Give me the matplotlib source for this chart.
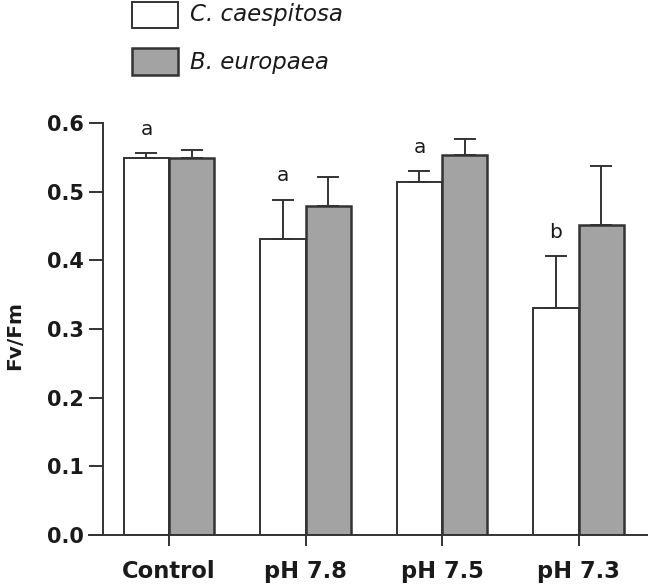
import matplotlib
matplotlib.use("Agg")
import matplotlib.pyplot as plt
import matplotlib.transforms as mtransforms
from matplotlib.patches import Rectangle
import numpy as np

categories = ["Control", "pH 7.8", "pH 7.5", "pH 7.3"]
caesp_mean = [0.549, 0.431, 0.514, 0.330]
caesp_err = [0.007, 0.057, 0.016, 0.076]
europ_mean = [0.549, 0.479, 0.553, 0.451]
europ_err = [0.011, 0.042, 0.023, 0.086]
letters = ["a", "a", "a", "b"]
series_names = ["C. caespitosa", "B. europaea"]
yticks = [0.0, 0.1, 0.2, 0.3, 0.4, 0.5, 0.6]

plt.rcParams['font.family'] = ['DejaVu Sans']

W, H = 648, 587
fig = plt.figure(figsize=(W / 100, H / 100), dpi=100)
ax = fig.add_axes([103 / W, 1 - 535 / H, 545 / W, (535 - 123) / H])

x = np.arange(len(categories))
bw = 0.33
edge = "#333333"
gray = "#a3a3a3"
txt = "#1a1a1a"
ekw = dict(ecolor=edge, elinewidth=1.4, capsize=8, capthick=1.4)
ax.bar(x - bw / 2, caesp_mean, bw, color="white", edgecolor=edge, linewidth=1.4,
       yerr=[np.zeros(4), caesp_err], error_kw=ekw)
ax.bar(x + bw / 2, europ_mean, bw, color=gray, edgecolor=edge, linewidth=1.8,
       yerr=[np.zeros(4), europ_err], error_kw=ekw)

for i in range(4):
    ax.text(x[i] - bw / 2, caesp_mean[i] + caesp_err[i] + 0.027, letters[i], ha="center",
            va="baseline", fontsize=14.5, color=txt, clip_on=False)

ax.set_xlim(-0.4835, 3.509)
ax.set_ylim(0, 0.6)
ax.set_yticks(yticks)
ax.set_yticklabels([f"{v:.1f}" for v in yticks], fontsize=15, fontweight="bold", color=txt)
ax.set_xticks(x)
ax.set_xticklabels(categories, fontsize=16.3, fontweight="bold", color=txt)
off = mtransforms.ScaledTranslation(4 / 100, 0, fig.dpi_scale_trans)
for lab in ax.get_xticklabels():
    lab.set_transform(lab.get_transform() + off)
ax.tick_params(axis="y", length=10, width=1.4, color=edge, pad=4)
ax.tick_params(axis="x", length=8, width=1.4, color=edge, pad=10)
for s in ["top", "right", "bottom"]:
    ax.spines[s].set_visible(False)
ax.spines["left"].set_bounds(0, 0.6)
ax.spines["left"].set_linewidth(1.4)
ax.spines["left"].set_color(edge)
ax.plot([-14 / 545, 1], [0, 0], transform=ax.transAxes, color=edge, lw=1.4, clip_on=False)
fig.text(15 / W, 1 - 335 / H, "Fv/Fm", rotation=90, fontsize=14.5, fontweight="bold",
         ha="center", va="center", color=txt)

# legend
fig.patches.append(Rectangle((132 / W, 1 - 28 / H), 46 / W, 26 / H, transform=fig.transFigure,
                             facecolor="white", edgecolor=edge, lw=1.4))
fig.patches.append(Rectangle((132 / W, 1 - 75 / H), 46 / W, 27 / H, transform=fig.transFigure,
                             facecolor=gray, edgecolor=edge, lw=1.8))
fig.text(190 / W, 1 - 14 / H, series_names[0], style="italic", fontsize=16.5, va="center",
         color=txt)
fig.text(190 / W, 1 - 62 / H, series_names[1], style="italic", fontsize=16.5, va="center",
         color=txt)

fig.savefig("out.png", dpi=100)
